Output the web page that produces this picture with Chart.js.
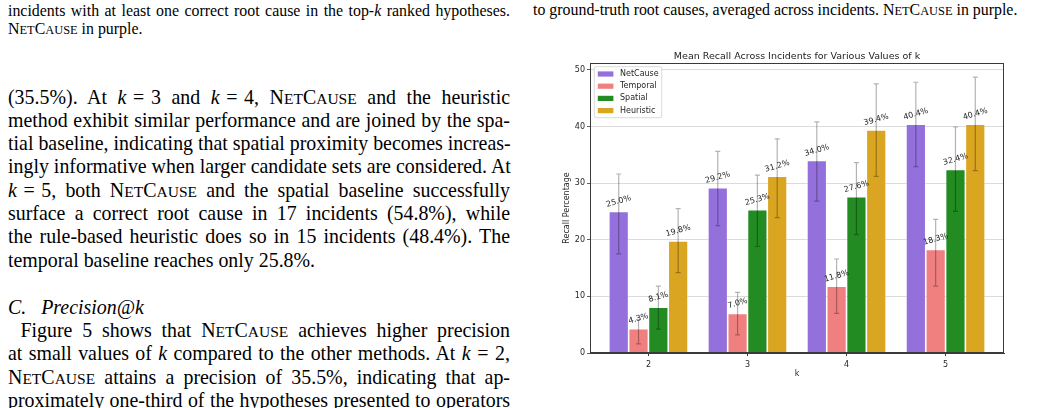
<!DOCTYPE html>
<html>
<head>
<meta charset="utf-8">
<script src="https://cdn.jsdelivr.net/npm/chart.js@4.4.1/dist/chart.umd.min.js"></script>
<style>
  html, body { margin: 0; padding: 0; background: #fff; }
  body { width: 1041px; height: 408px; overflow: hidden; position: relative; font-family: "Liberation Serif", "Times New Roman", serif; color: #000; }
  .ln { position: absolute; white-space: nowrap; }
  .j { text-align: justify; text-align-last: justify; }
  .cap { font-size: 15.9px; line-height: 17.5px; }
  .body { font-size: 19.9px; line-height: 23.3px; }
  .s { font-size: 0.78em; }
  #chartBox { position: absolute; left: 548px; top: 40px; width: 470px; height: 350px; }
</style>
</head>
<body>
<div class="ln cap j" style="left:8px; top:1.5px; width:502px;">incidents with at least one correct root cause in the top-<i>k</i> ranked hypotheses.</div>
<div class="ln cap" style="left:8px; top:20px; width:502px;">N<span class="s">ET</span>C<span class="s">AUSE</span> in purple.</div>
<div class="ln cap" style="left:533px; top:0.5px; width:502px;">to ground-truth root causes, averaged across incidents. N<span class="s">ET</span>C<span class="s">AUSE</span> in purple.</div>

<div class="ln body j" style="left:8px; top:85.5px; width:502px;">(35.5%). At <i>k</i>&#8196;=&#8196;3 and <i>k</i>&#8196;=&#8196;4, N<span class="s">ET</span>C<span class="s">AUSE</span> and the heuristic</div>
<div class="ln body j" style="left:8px; top:108.8px; width:502px;">method exhibit similar performance and are joined by the spa-</div>
<div class="ln body j" style="left:8px; top:132.1px; width:502px;">tial baseline, indicating that spatial proximity becomes increas-</div>
<div class="ln body j" style="left:8px; top:155.4px; width:502px;">ingly informative when larger candidate sets are considered. At</div>
<div class="ln body j" style="left:8px; top:178.7px; width:502px;"><i>k</i>&#8196;=&#8196;5, both N<span class="s">ET</span>C<span class="s">AUSE</span> and the spatial baseline successfully</div>
<div class="ln body j" style="left:8px; top:202px; width:502px;">surface a correct root cause in 17 incidents (54.8%), while</div>
<div class="ln body j" style="left:8px; top:225.3px; width:502px;">the rule-based heuristic does so in 15 incidents (48.4%). The</div>
<div class="ln body" style="left:8px; top:248.6px; width:502px;">temporal baseline reaches only 25.8%.</div>

<div class="ln body" style="left:8px; top:296px; width:502px;"><i>C.&#8194;&#8197;Precision@k</i></div>
<div class="ln body j" style="left:20.5px; top:319px; width:489.5px;">Figure 5 shows that N<span class="s">ET</span>C<span class="s">AUSE</span> achieves higher precision</div>
<div class="ln body j" style="left:8px; top:342.3px; width:502px;">at small values of <i>k</i> compared to the other methods. At <i>k</i>&#8196;=&#8196;2,</div>
<div class="ln body j" style="left:8px; top:365.6px; width:502px;">N<span class="s">ET</span>C<span class="s">AUSE</span> attains a precision of 35.5%, indicating that ap-</div>
<div class="ln body j" style="left:8px; top:388.9px; width:502px;">proximately one-third of the hypotheses presented to operators</div>

<div id="chartBox"><canvas id="chart" width="470" height="350"></canvas></div>

<script>
// values
const kValues = ['2', '3', '4', '5'];
const yTicks = [0, 10, 20, 30, 40, 50];

const methods = ['NetCause', 'Temporal', 'Spatial', 'Heuristic'];
const methodColors = ['#9370DB', '#F08080', '#228B22', '#DAA520'];

const netcause = [25.0, 29.2, 34.0, 40.4];
const temporal = [4.3, 7.0, 11.8, 18.3];
const spatial = [8.1, 25.3, 27.6, 32.4];
const heuristic = [19.8, 31.2, 39.4, 40.4];

// error bar extents above / below each bar
const netcauseErrUp = [6.6, 6.4, 6.8, 7.4];
const netcauseErrDown = [7.5, 6.7, 7.2, 7.5];
const temporalErrUp = [1.6, 3.7, 4.8, 5.3];
const temporalErrDown = [2.7, 3.8, 4.8, 6.5];
const spatialErrUp = [3.7, 6.1, 6.0, 7.5];
const spatialErrDown = [3.9, 6.5, 6.7, 7.4];
const heuristicErrUp = [5.7, 6.6, 8.1, 8.3];
const heuristicErrDown = [5.6, 7.3, 8.2, 8.2];

const seriesValues = [netcause, temporal, spatial, heuristic];
const seriesErrUp = [netcauseErrUp, temporalErrUp, spatialErrUp, heuristicErrUp];
const seriesErrDown = [netcauseErrDown, temporalErrDown, spatialErrDown, heuristicErrDown];

const FONT = 'DejaVu Sans';

const errorBars = {
  id: 'errorBars',
  afterDatasetsDraw(chart) {
    const { ctx } = chart;
    const y = chart.scales.y;
    ctx.save();
    ctx.strokeStyle = 'rgba(0,0,0,0.3)';
    ctx.lineWidth = 1.2;
    chart.data.datasets.forEach((ds, di) => {
      chart.getDatasetMeta(di).data.forEach((bar, i) => {
        const v = seriesValues[di][i];
        const top = y.getPixelForValue(v + seriesErrUp[di][i]);
        const bot = y.getPixelForValue(v - seriesErrDown[di][i]);
        ctx.beginPath();
        ctx.moveTo(bar.x, top); ctx.lineTo(bar.x, bot);
        ctx.moveTo(bar.x - 2.5, top); ctx.lineTo(bar.x + 2.5, top);
        ctx.moveTo(bar.x - 2.5, bot); ctx.lineTo(bar.x + 2.5, bot);
        ctx.stroke();
      });
    });
    ctx.restore();
  },
};

const valueLabels = {
  id: 'valueLabels',
  afterDatasetsDraw(chart) {
    const { ctx } = chart;
    ctx.save();
    ctx.font = '8px "' + FONT + '"';
    ctx.fillStyle = '#262626';
    ctx.textAlign = 'center';
    ctx.textBaseline = 'middle';
    chart.data.datasets.forEach((ds, di) => {
      chart.getDatasetMeta(di).data.forEach((bar, i) => {
        ctx.save();
        ctx.translate(bar.x, bar.y - 10);
        ctx.rotate(-16 * Math.PI / 180);
        ctx.fillText(seriesValues[di][i].toFixed(1) + '%', 0, 0);
        ctx.restore();
      });
    });
    ctx.restore();
  },
};

const boxLegend = {
  id: 'boxLegend',
  afterDraw(chart) {
    const { ctx, chartArea } = chart;
    const x0 = chartArea.left + 4.3;
    const y0 = chartArea.top + 3.7;
    ctx.save();
    ctx.fillStyle = 'rgba(255,255,255,0.85)';
    ctx.strokeStyle = '#d0d0d0';
    ctx.lineWidth = 0.8;
    ctx.beginPath();
    ctx.roundRect(x0, y0, 67.4, 51, 2);
    ctx.fill();
    ctx.stroke();
    ctx.font = '8px "' + FONT + '"';
    ctx.textBaseline = 'middle';
    ctx.textAlign = 'left';
    methods.forEach((name, i) => {
      const cy = y0 + 7.3 + i * 12.2;
      ctx.fillStyle = methodColors[i];
      ctx.fillRect(x0 + 3.5, cy - 2.6, 15.6, 5.2);
      ctx.fillStyle = '#262626';
      ctx.fillText(name, x0 + 25.7, cy);
    });
    ctx.restore();
  },
};

const frame = {
  id: 'frame',
  afterDraw(chart) {
    const { ctx, chartArea } = chart;
    ctx.save();
    ctx.strokeStyle = '#3a3a3a';
    ctx.lineWidth = 1;
    ctx.strokeRect(Math.round(chartArea.left) + 0.5, Math.round(chartArea.top) + 0.5,
      Math.round(chartArea.right - chartArea.left) - 1, Math.round(chartArea.bottom - chartArea.top) - 1);
    ctx.restore();
  },
};

const chart = new Chart(document.getElementById('chart').getContext('2d'), {
  type: 'bar',
  data: {
    datasets: methods.map((name, di) => ({
      label: name,
      data: seriesValues[di].map((v, i) => ({ x: i, y: v })),
      backgroundColor: methodColors[di],
      borderColor: 'rgba(255,255,255,0.45)',
      borderWidth: 0.8,
      borderSkipped: 'bottom',
      categoryPercentage: 0.8,
      barPercentage: 1.0,
    })),
  },
  options: {
    responsive: false,
    animation: false,
    layout: { padding: { left: 0, right: 14, top: 0, bottom: 0 } },
    plugins: {
      legend: { display: false },
      tooltip: { enabled: false },
      title: {
        display: true,
        fullSize: false, // centre the title over the plot area only
        text: 'Mean Recall Across Incidents for Various Values of k',
        color: '#222',
        font: { family: FONT, size: 9.5, weight: 'normal' },
        padding: { top: 10.5, bottom: 1.1 },
      },
    },
    scales: {
      x: {
        type: 'linear',
        bounds: 'data',
        offset: false,
        min: -0.59,
        max: 3.59,
        afterBuildTicks: (scale) => { scale.ticks = kValues.map((_, i) => ({ value: i })); },
        afterFit: (scale) => { scale.height = 37; },
        ticks: {
          callback: (v) => kValues[v],
          font: { family: FONT, size: 8 },
          color: '#262626',
          padding: 4,
          maxRotation: 0,
        },
        grid: { display: true, offset: false, drawOnChartArea: false, drawTicks: true, tickLength: 3, tickColor: '#3a3a3a' },
        border: { display: true, color: '#3a3a3a', width: 1 },
        title: {
          display: true,
          text: 'k',
          color: '#262626',
          font: { family: FONT, size: 8 },
          padding: { top: 0, bottom: 11 },
        },
      },
      y: {
        min: 0,
        max: 51.2,
        afterBuildTicks: (scale) => { scale.ticks = yTicks.map((v) => ({ value: v })); },
        afterFit: (scale) => { scale.width = 42; },
        ticks: {
          font: { family: FONT, size: 8 },
          color: '#262626',
          padding: 2,
        },
        grid: {
          color: 'rgba(0,0,0,0.18)',
          lineWidth: 0.8,
          borderDash: [3, 2],
          tickLength: 3,
          tickColor: '#3a3a3a',
          tickBorderDash: [],
        },
        border: { display: true, color: '#3a3a3a', width: 1 },
        title: {
          display: true,
          text: 'Recall Percentage',
          color: '#262626',
          font: { family: FONT, size: 8 },
          padding: { top: 14, bottom: 0 },
        },
      },
    },
  },
  plugins: [errorBars, valueLabels, boxLegend, frame],
});
</script>
</body>
</html>
